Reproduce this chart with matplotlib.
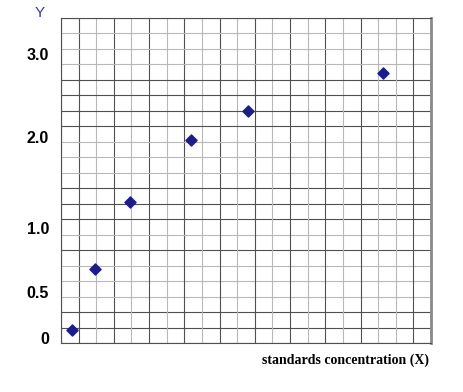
import matplotlib
matplotlib.use("Agg")
import matplotlib.pyplot as plt

# Data (grid units: 21 x 21 cells)
x_points = [0.62, 1.93, 3.93, 7.40, 10.63, 18.29]
y_points = [0.86, 4.82, 9.14, 13.12, 15.02, 17.47]

y_tick_pos = [18.7, 13.3, 7.44, 3.3, 0.34]
y_tick_labels = ["3.0", "2.0", "1.0", "0.5", "0"]

x_label = "standards concentration (X)"
y_label = "Y"

n_cells = 21
dark_v = [0, 1, 3, 5, 7, 9, 11, 13, 15, 17, 20]
dark_h = [0, 1, 2, 6, 8, 9, 10, 14, 15, 16, 17, 21]

W, H = 463, 392
fig = plt.figure(figsize=(W / 100, H / 100), dpi=100)
ax = fig.add_axes([61 / W, (H - 343.3) / H, 370 / W, 325.3 / H])
ax.set_xlim(0, n_cells)
ax.set_ylim(0, n_cells)

for i in range(n_cells + 1):
    c = "#505050" if i in dark_v else "#b8b8b8"
    ax.axvline(i, color=c, lw=0.8, zorder=1)
    c = "#505050" if i in dark_h else "#b8b8b8"
    ax.axhline(i, color=c, lw=0.8, zorder=1)

ax.scatter(x_points, y_points, marker="D", s=32, color="#1c1c8a", zorder=3, clip_on=False)

for s in ["left", "top", "bottom"]:
    ax.spines[s].set_color("#505050")
    ax.spines[s].set_linewidth(0.8)
ax.spines["right"].set_color("#8a8a8a")
ax.spines["right"].set_linewidth(2.0)

ax.set_xticks([])
ax.set_yticks(y_tick_pos)
ax.set_yticklabels(y_tick_labels, fontfamily="Liberation Sans", fontweight="bold", fontsize=11.5)
ax.tick_params(axis="y", length=0, pad=8.5)

ax.set_xlabel(x_label, fontfamily="Liberation Serif", fontweight="bold", fontsize=10)
ax.xaxis.set_label_coords(345.5 / W, 1 - 360.7 / H, transform=fig.transFigure)
ax.xaxis.label.set_va("center")
fig.text(39.3 / W, 1 - 13 / H, y_label, ha="center", va="center",
         fontfamily="Liberation Sans", fontsize=11, color="#3a3a9a")

fig.savefig("out.png", dpi=100)
